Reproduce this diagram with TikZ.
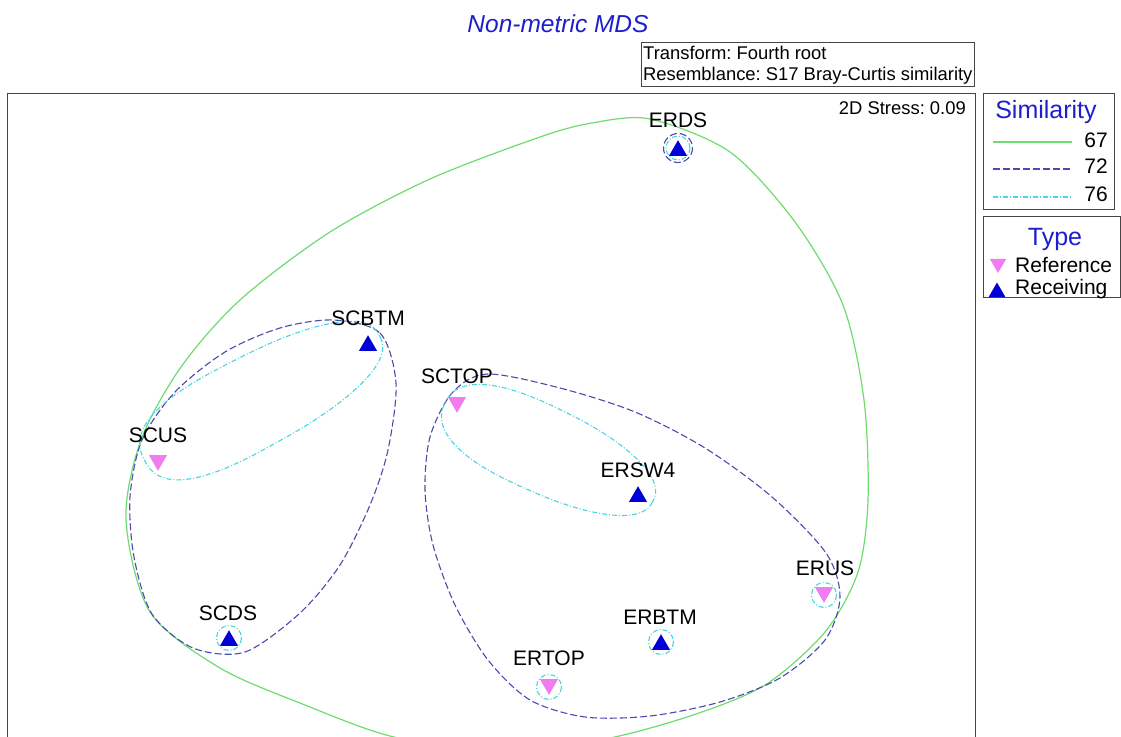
\documentclass[tikz,border=0pt]{standalone}
\usepackage{fontspec}
\setmainfont{Liberation Sans}
\usetikzlibrary{shapes.geometric}
\definecolor{grn}{RGB}{110,220,110}
\definecolor{dblue}{RGB}{75,75,175}
\definecolor{cyn}{RGB}{70,215,225}
\definecolor{pinkv}{RGB}{240,125,240}
\definecolor{tblue}{RGB}{0,0,215}
\definecolor{hblue}{RGB}{30,30,205}
\definecolor{framec}{RGB}{70,70,70}
\frenchspacing
% rounded, slightly egg-shaped loop: semi-axes #1, #2, exponent #3, egg factor #4
\newcommand{\eggloop}[4]{plot[domain=1.5:361.5, samples=121]
  ({#1*cos(\x)/abs(cos(\x))*abs(cos(\x))^(#3)},
   {#2*sin(\x)/abs(sin(\x))*abs(sin(\x))^(#3)*(1-#4*cos(\x))}) -- cycle}
\begin{document}
\begin{tikzpicture}[x=1pt,y=-1pt,
  recv/.style={regular polygon, regular polygon sides=3, fill=tblue, draw=none, minimum size=20.8pt, inner sep=0pt},
  refr/.style={regular polygon, regular polygon sides=3, shape border rotate=180, fill=pinkv, draw=none, minimum size=20.8pt, inner sep=0pt},
  lbl/.style={anchor=base, inner sep=0pt, font=\fontsize{21}{24}\selectfont},
  c67/.style={draw=grn, line width=1.2pt},
  c72/.style={draw=dblue, line width=1.1pt, dash pattern=on 7pt off 3pt},
  c76/.style={draw=cyn, line width=1.1pt, dash pattern=on 5pt off 2pt on 1pt off 2pt},
  boxc/.style={draw=framec, line width=1pt},
  legtxt/.style={anchor=base, inner sep=0pt, font=\fontsize{21}{24}\selectfont},
  headtxt/.style={anchor=base, inner sep=0pt, text=hblue, font=\fontsize{25}{28}\selectfont}]
\useasboundingbox (0,0) rectangle (1121,736);
\fill[white] (0,0) rectangle (1121,736);

% title and annotation box
\node[anchor=base, inner sep=0pt, text=hblue, font=\fontsize{24.5}{28}\selectfont\itshape] (title) at (558,32) {Non-metric MDS};
\draw[boxc] (641,42) rectangle (974,86);
\node[anchor=base west, inner sep=0pt, font=\fontsize{18.4}{22}\selectfont] (tf) at (643,59) {Transform: Fourth root};
\node[anchor=base west, inner sep=0pt, font=\fontsize{18.4}{22}\selectfont] (rs) at (643,80) {Resemblance: S17 Bray-Curtis similarity};

% plot frame
\draw[boxc] (7,745) -- (7,93) -- (975,93) -- (975,745);
\node[anchor=base east, inner sep=0pt, font=\fontsize{18.4}{22}\selectfont] (stress) at (966,114) {2D Stress: 0.09};

% similarity contours
\begin{scope}
\clip (7,93) rectangle (975,736);
% 67 %
\draw[c67] plot[smooth cycle] coordinates {(650,119) (730,152) (795,222) (843,305) (864,400) (868,500) (858,572) (825,632) (765,685) (690,716) (600,740) (490,752) (390,736) (305,705) (220,668) (150,612) (126,520) (141,440) (181,367) (240,300) (330,232) (430,179) (540,137) (592,123)};
% 72 %
\draw[c72] plot[smooth cycle] coordinates {(333,320) (380,333) (396,383) (388,450) (370,505) (340,565) (300,613) (245,652) (193,648) (152,614) (134,557) (130,497) (142,440) (175,392) (225,352) (280,328)};
\draw[c72] plot[smooth cycle] coordinates {(487,374) (560,388) (635,412) (705,448) (772,497) (826,553) (840,597) (825,640) (780,678) (720,702) (650,716) (585,717) (530,700) (488,660) (455,605) (433,545) (425,490) (430,437) (452,393)};
% 76 %
\begin{scope}[shift={(262,398)}, rotate=28]
\draw[c76] \eggloop{133}{46}{0.8}{0.12};
\end{scope}
\begin{scope}[shift={(549,452)}, rotate=-25]
\draw[c76] \eggloop{115}{43}{0.85}{0.1};
\end{scope}
\end{scope}

% samples
\node[recv] (pERDS)  at (678,150.6) {};
\node[recv] (pSCBTM) at (368,345.6) {};
\node[refr] (pSCTOP) at (457,402.4) {};
\node[refr] (pSCUS)  at (158,460.4) {};
\node[recv] (pERSW4) at (638,496.6) {};
\node[refr] (pERUS)  at (824,592.4) {};
\node[recv] (pSCDS)  at (229,640.6) {};
\node[recv] (pERBTM) at (661,644.6) {};
\node[refr] (pERTOP) at (549,684.4) {};

% single-sample contours
\draw[c76] (678,148) circle (12);
\draw[c72] (678,148) circle (14.5);
\draw[c76] (824,595) circle (12.5);
\draw[c76] (229,638) circle (12.5);
\draw[c76] (661,642) circle (12.5);
\draw[c76] (549,687) circle (12.5);

% sample labels
\node[lbl] (lERDS)  at (678,127) {ERDS};
\node[lbl] (lSCBTM) at (368,325) {SCBTM};
\node[lbl] (lSCTOP) at (457,383) {SCTOP};
\node[lbl] (lSCUS)  at (158,442) {SCUS};
\node[lbl] (lERSW4) at (638,477) {ERSW4};
\node[lbl] (lERUS)  at (825,575) {ERUS};
\node[lbl] (lSCDS)  at (228,620) {SCDS};
\node[lbl] (lERBTM) at (660,624) {ERBTM};
\node[lbl] (lERTOP) at (549,665) {ERTOP};

% similarity legend
\draw[boxc] (983,93) rectangle (1114,209);
\node[headtxt] (hsim) at (1046,118) {Similarity};
\draw[c67] (993,142) -- (1072,142);
\draw[c72] (993,169) -- (1072,169);
\draw[c76] (993,197) -- (1072,197);
\node[legtxt, anchor=base east] (v67) at (1108,147) {67};
\node[legtxt, anchor=base east] (v72) at (1108,173) {72};
\node[legtxt, anchor=base east] (v76) at (1108,201) {76};

% type legend
\draw[boxc] (983,216) rectangle (1120,297);
\node[headtxt] (htype) at (1055,245) {Type};
\node[refr, minimum size=19pt] (kref) at (998,263.5) {};
\node[recv, minimum size=19pt] (krec) at (997,292) {};
\node[legtxt, anchor=base west] (tref) at (1015,272) {Reference};
\node[legtxt, anchor=base west] (trec) at (1015,294) {Receiving};
\end{tikzpicture}
\end{document}
